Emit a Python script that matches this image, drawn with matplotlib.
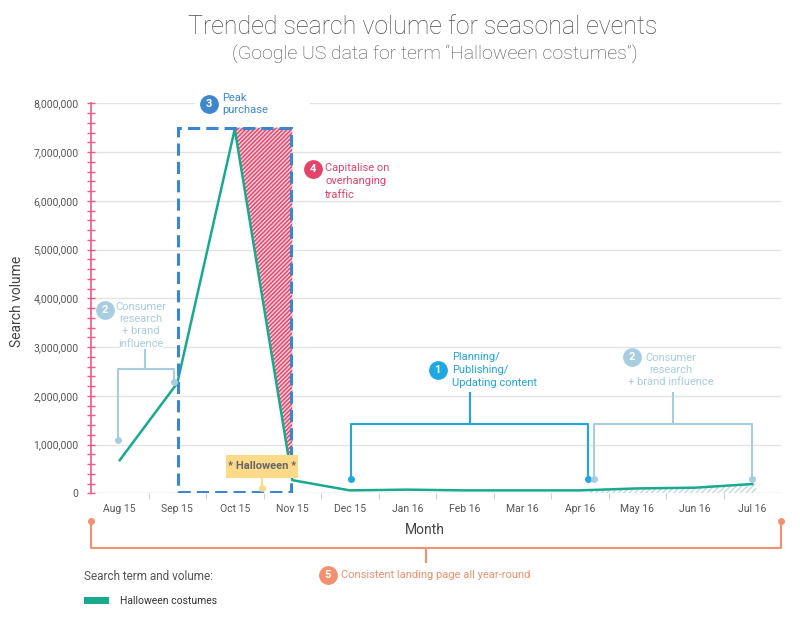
import numpy as np
import matplotlib.pyplot as plt
from matplotlib.patches import Rectangle
from matplotlib.ticker import MultipleLocator, FuncFormatter, FixedLocator

plt.rcParams['font.family'] = ['Roboto', 'DejaVu Sans']
plt.rcParams['hatch.linewidth'] = 1.0

# data
months = ['Aug 15', 'Sep 15', 'Oct 15', 'Nov 15', 'Dec 15', 'Jan 16',
          'Feb 16', 'Mar 16', 'Apr 16', 'May 16', 'Jun 16', 'Jul 16']
volume = [680000, 2260000, 7470000, 270000, 60000, 75000,
          60000, 60000, 60000, 100000, 115000, 190000]
peak = 7500000

TEAL = '#18aa8f'
RED = '#e4436a'
BLUE = '#1ea7e1'
LBLUE = '#a9cde0'
DBLUE = '#3b86d0'
ORANGE = '#f3906f'
GREY = '#555555'

x = np.arange(len(months))

fig = plt.figure(figsize=(8, 6.35), dpi=100)
ax = fig.add_axes([91/800, 1-493.3/635, 690/800, 390/635])

ax.plot(x, volume, color=TEAL, lw=1.8, zorder=4)

# overhanging traffic (red hatch between peak and the drop)
ax.fill_between(x[2:4], volume[2:4], peak, facecolor='#f8ccd6',
                hatch='////////', edgecolor=RED, lw=0, zorder=2)

# light hatch under the tail of the series
xt = np.linspace(8.18, 11.07, 30)
ax.fill_between(xt, np.interp(xt, x, volume), 0, facecolor='white',
                hatch='//////', edgecolor='#c8d6e0', lw=0, zorder=2)

# peak purchase dashed box
ax.add_patch(Rectangle((1.02, 30000), 1.96, peak - 30000, fill=False,
                       ls=(0, (4, 2)), lw=2.2, ec=DBLUE, zorder=5))

ax.set_xlim(-0.5, 11.5)
ax.set_ylim(0, 8000000)

# axes styling
for s in ['top', 'right', 'bottom']:
    ax.spines[s].set_visible(False)
ax.spines['left'].set_color('#ee5b80')
ax.spines['left'].set_linewidth(1.2)
ax.yaxis.set_major_locator(MultipleLocator(1000000))
ax.yaxis.set_minor_locator(MultipleLocator(200000))
ax.yaxis.set_major_formatter(FuncFormatter(lambda v, p: f'{int(v):,}'))
ax.tick_params(axis='y', which='both', direction='inout', length=6,
               color='#ee5b80', width=1, labelsize=7.5, labelcolor=GREY, pad=6)
ax.grid(axis='y', color='#e3e3e3', lw=1, zorder=0)
ax.set_axisbelow(True)

ax.xaxis.set_major_locator(FixedLocator(x[:-1] + 0.5))
ax.xaxis.set_major_formatter(FuncFormatter(lambda v, p: ''))
ax.set_xticks(x, minor=True)
ax.set_xticklabels(months, minor=True)
ax.tick_params(axis='x', which='major', length=4, color='#d0d0d0')
ax.tick_params(axis='x', which='minor', length=0, labelsize=7.5,
               labelcolor=GREY, pad=8)
ax.axhline(0, color='#e3e3e3', lw=1, zorder=1)


def badge(xc, yc, num, color, size=12.5):
    ax.scatter([xc], [yc], s=size**2, color=color, zorder=8, clip_on=False)
    ax.text(xc, yc, num, color='white', fontsize=8, ha='center',
            va='center', zorder=9, fontweight='bold', clip_on=False)


def bracket(xl, xr, ybar, yl, yr, xs, ytop, color):
    kw = dict(color=color, lw=1.5, zorder=6, clip_on=False)
    ax.plot([xl, xl, xr, xr], [yl, ybar, ybar, yr], **kw)
    ax.plot([xs, xs], [ybar, ytop], **kw)
    ax.plot([xl, xr], [yl, yr], 'o', ms=4, color=color, zorder=7,
            clip_on=False)


def lines(xc, ytop, texts, color, ha, step=250000):
    for i, t in enumerate(texts):
        ax.text(xc, ytop - i * step, t, color=color, fontsize=8, ha=ha,
                va='center', zorder=8, clip_on=False)


# 2 - consumer research (left)
bracket(-0.03, 0.94, 2550000, 1090000, 2290000, 0.44, 2940000, LBLUE)
ax.add_patch(Rectangle((0.0, 2960000), 0.75, 1000000, fc='white', ec='none',
                       zorder=3))
badge(-0.26, 3760000, '2', LBLUE)
lines(0.36, 3820000, ['Consumer', 'research', '+ brand', 'influence'],
      LBLUE, 'center')

# 3 - peak purchase
ax.add_patch(Rectangle((1.3, 7700000), 2.0, 450000, fc='white', ec='none',
                       zorder=3, clip_on=False))
badge(1.55, 7990000, '3', '#3f87cd')
lines(1.78, 8110000, ['Peak', 'purchase'], '#3f87cd', 'left')

# 4 - capitalise
badge(3.36, 6660000, '4', RED)
lines(3.57, 6680000, ['Capitalise on', 'overhanging', 'traffic'], RED, 'left',
      step=280000)

# Halloween label
ax.plot([2.47, 2.47], [310000, 110000], color='#fdd98a', lw=1.5, zorder=6)
ax.plot([2.47], [110000], 'o', ms=4, color='#fdd98a', zorder=6)
ax.add_patch(Rectangle((1.85, 310000), 1.25, 480000, fc='#fdd98a',
                       ec='none', zorder=7))
ax.text(2.475, 550000, '* Halloween *', color='#666666', fontsize=8,
        fontweight='bold', ha='center', va='center', zorder=8)

# 1 - planning
bracket(4.02, 8.14, 1420000, 290000, 290000, 6.09, 2060000, BLUE)
badge(5.53, 2530000, '1', BLUE)
lines(5.78, 2790000, ['Planning/', 'Publishing/', 'Updating content'],
      BLUE, 'left', step=260000)

# 2 - consumer research (right)
bracket(8.25, 11.0, 1420000, 290000, 290000, 9.62, 2060000, LBLUE)
badge(8.91, 2800000, '2', LBLUE)
lines(9.59, 2780000, ['Consumer', 'research', '+ brand influence'],
      LBLUE, 'center', step=250000)

# 5 - consistent landing page (below axis)
bracket(-0.5, 11.5, -1120000, -570000, -570000, 5.33, -1410000, ORANGE)
badge(3.62, -1670000, '5', ORANGE)
ax.text(3.85, -1670000, 'Consistent landing page all year-round',
        color=ORANGE, fontsize=8, ha='left', va='center', clip_on=False)

# titles and labels
fig.text(423/800, 1-27/635, 'Trended search volume for seasonal events',
         ha='center', va='center', fontsize=18, color='#4e4e4e',
         fontweight='light')
fig.text(435/800, 1-54/635, '(Google US data for term \u201cHalloween costumes\u201d)',
         ha='center', va='center', fontsize=14, color='#4e4e4e',
         fontweight='light')
fig.text(425/800, 1-530/635, 'Month', ha='center', va='center',
         fontsize=10, color='#444444')
fig.text(17/800, 1-301/635, 'Search volume', ha='center', va='center',
         rotation=90, fontsize=10, color='#444444')

# legend
fig.text(84/800, 1-576/635, 'Search term and volume:', ha='left',
         va='center', fontsize=8.5, color=GREY)
fig.patches.append(Rectangle((84/800, 1-604/635), 25/800, 7/635,
                             fc=TEAL, ec='none', transform=fig.transFigure))
fig.text(120/800, 1-601/635, 'Halloween costumes', ha='left',
         va='center', fontsize=7.5, color='#333333')

fig.savefig('out.png', dpi=100, facecolor='white')
